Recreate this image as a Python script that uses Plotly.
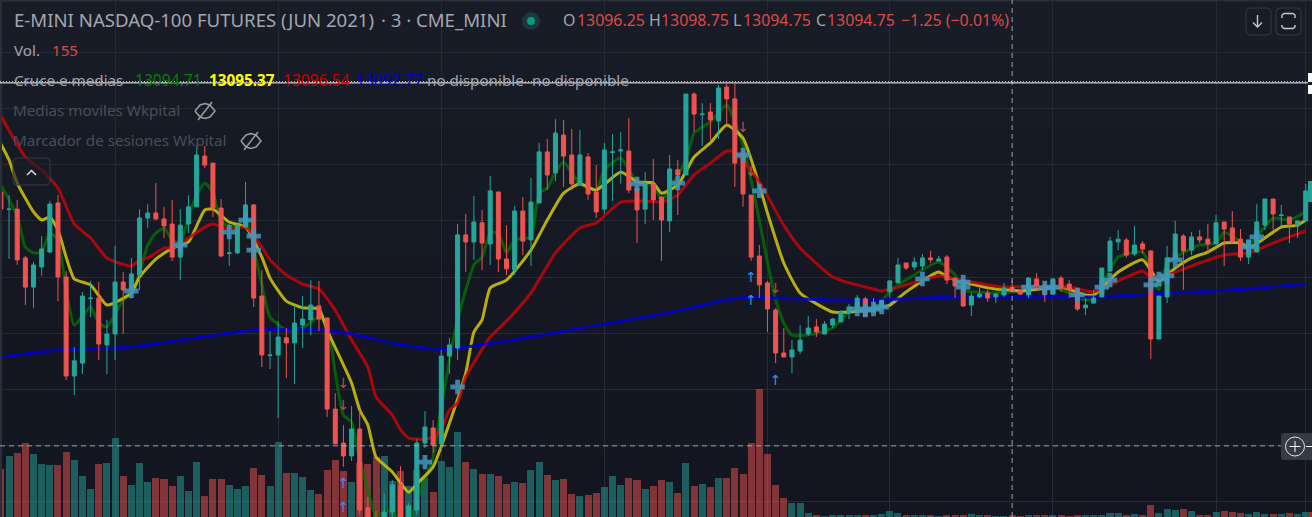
import plotly.graph_objects as go

bars = list(range(161))

opens = [13130.3,13124.1,13124.2,13106.8,13096.4,13103.6,13108.9,13126.4,13100.0,13064.7,13069.3,13092.3,13092.5,13075.8,13079.7,13098.2,13094.3,13100.7,13121.0,13122.8,
13120.7,13118.9,13107.1,13118.9,13125.0,13143.1,13140.6,13124.6,13108.4,13108.6,13117.8,13125.7,13093.2,13072.0,13072.2,13078.3,13076.5,13082.9,13084.7,13089.7,
13085.4,13052.9,13040.8,13036.2,13045.8,13017.7,13012.6,13009.8,13016.2,13025.9,13009.8,13016.9,13040.8,13046.2,13040.5,13071.8,13074.7,13115.0,13112.5,13119.3,
13111.8,13130.3,13106.4,13102.5,13123.5,13113.2,13126.4,13144.6,13137.1,13150.6,13143.5,13132.8,13142.8,13130.3,13124.2,13144.4,13144.9,13144.9,13131.7,13124.2,
13133.2,13128.5,13120.0,13138.2,13136.4,13165.2,13157.9,13158.8,13155.6,13167.7,13163.5,13144.2,13129.2,13107.5,13097.9,13088.2,13072.9,13071.5,13073.6,13079.7,
13082.2,13079.7,13082.9,13084.0,13087.2,13088.2,13092.2,13087.5,13089.0,13094.7,13097.9,13105.0,13103.6,13103.9,13106.8,13105.7,13107.1,13099.6,13097.2,13090.0,
13092.9,13094.3,13092.9,13093.6,13096.25,13095.0,13093.6,13099.3,13096.8,13093.9,13099.6,13097.5,13095.4,13089.0,13090.7,13092.9,13102.1,13112.5,13113.2,13108.2,
13111.8,13109.3,13077.9,13092.9,13106.4,13114.6,13109.6,13114.3,13113.5,13111.8,13119.6,13117.5,13113.5,13107.1,13108.9,13118.5,13127.8,13121.9,13121.4,13118.2,13120.0]

highs = [13131.0,13129.2,13127.5,13107.5,13105.3,13114.6,13127.1,13129.2,13102.1,13075.0,13094.7,13098.6,13098.2,13084.7,13111.1,13101.8,13106.8,13124.2,13126.0,13133.5,
13125.0,13127.5,13124.2,13129.2,13146.7,13146.7,13140.6,13127.8,13118.9,13118.9,13133.9,13126.0,13102.5,13080.7,13084.3,13081.8,13089.7,13093.2,13098.9,13098.6,
13085.4,13058.6,13047.2,13054.0,13052.6,13021.6,13016.6,13022.6,13027.6,13032.6,13019.4,13042.2,13052.2,13049.0,13074.0,13078.3,13118.9,13122.5,13128.9,13123.9,
13136.0,13130.3,13118.5,13125.3,13128.5,13135.3,13147.8,13149.2,13156.3,13156.0,13152.8,13152.4,13144.2,13139.9,13147.8,13151.0,13151.7,13156.7,13134.6,13137.4,
13142.1,13128.9,13143.5,13141.7,13165.2,13165.9,13162.0,13162.0,13168.5,13168.8,13168.8,13145.3,13129.2,13111.4,13098.6,13088.9,13081.8,13077.5,13082.9,13086.1,
13085.0,13084.3,13085.4,13088.2,13090.4,13093.6,13092.9,13092.5,13091.8,13098.9,13106.8,13105.0,13107.1,13108.2,13109.3,13107.5,13107.8,13099.6,13098.9,13094.3,
13096.1,13095.4,13094.3,13097.9,13098.75,13095.7,13100.0,13101.4,13098.2,13099.6,13100.4,13098.9,13096.1,13092.5,13095.4,13103.2,13114.3,13116.8,13113.9,13118.2,
13112.8,13109.3,13093.2,13111.1,13120.0,13115.3,13116.0,13116.8,13118.9,13122.1,13119.6,13123.5,13117.1,13113.2,13126.0,13127.8,13127.8,13125.7,13121.4,13120.0,13133.2]

lows = [13124.2,13106.4,13104.3,13090.0,13088.9,13100.4,13108.6,13091.4,13063.3,13057.9,13065.4,13085.7,13070.4,13065.4,13070.4,13079.7,13092.5,13095.4,13117.5,13120.3,
13113.9,13105.7,13098.9,13115.7,13125.0,13138.9,13121.4,13107.1,13103.9,13108.2,13117.8,13089.3,13067.9,13067.2,13049.7,13064.0,13061.9,13074.7,13079.3,13080.7,
13050.1,13040.5,13032.3,13034.4,13015.1,13009.8,13008.0,13008.0,13013.4,13008.0,13008.0,13015.1,13039.0,13037.2,13038.0,13065.4,13070.4,13101.8,13106.1,13102.5,
13104.3,13101.8,13100.7,13100.7,13107.8,13103.9,13126.4,13131.0,13134.2,13132.1,13131.0,13132.8,13127.5,13121.0,13122.5,13127.1,13133.2,13129.9,13112.1,13118.9,
13120.3,13105.7,13116.0,13122.1,13136.4,13151.7,13146.7,13148.8,13149.2,13154.9,13132.1,13125.0,13105.7,13092.5,13080.4,13069.3,13071.5,13065.8,13072.5,13079.0,
13078.6,13079.7,13081.8,13084.0,13085.0,13088.2,13086.1,13087.5,13089.0,13092.5,13097.9,13102.5,13102.5,13102.5,13105.0,13105.7,13097.5,13092.5,13089.3,13086.1,
13092.5,13091.1,13090.7,13092.9,13094.75,13093.6,13092.5,13095.0,13091.1,13093.9,13094.7,13092.5,13087.9,13086.4,13090.7,13092.9,13102.1,13109.6,13106.8,13107.5,
13108.2,13070.8,13077.9,13090.7,13106.4,13095.4,13107.8,13112.1,13108.2,13111.8,13103.9,13112.5,13105.7,13104.6,13108.9,13116.8,13116.8,13118.2,13112.1,13113.9,13120.0]

closes = [13124.2,13124.2,13106.1,13096.4,13104.3,13110.0,13126.0,13100.0,13064.7,13070.1,13093.2,13092.5,13076.1,13079.7,13098.2,13095.4,13101.1,13121.0,13122.8,13120.7,
13118.2,13107.1,13118.5,13125.0,13143.5,13139.9,13124.6,13107.5,13108.6,13118.5,13125.7,13092.5,13072.2,13072.2,13078.6,13076.5,13083.6,13085.0,13090.0,13085.0,
13052.9,13040.5,13036.2,13045.8,13016.9,13012.6,13009.8,13016.2,13025.9,13011.6,13018.4,13040.8,13046.5,13040.1,13071.8,13075.8,13115.0,13112.5,13119.6,13112.1,
13130.7,13106.4,13102.9,13123.5,13112.8,13126.7,13144.6,13136.4,13151.3,13143.1,13133.2,13143.5,13129.6,13123.2,13145.3,13144.6,13145.3,13131.0,13123.9,13133.2,
13127.5,13120.3,13138.5,13136.4,13165.2,13158.1,13158.1,13156.0,13167.4,13163.5,13140.6,13129.6,13107.1,13097.2,13088.6,13072.9,13071.5,13074.0,13077.5,13081.8,
13080.4,13083.2,13085.0,13087.5,13089.3,13092.5,13086.1,13089.3,13091.4,13098.6,13104.3,13103.2,13105.3,13106.8,13106.1,13106.4,13098.9,13096.8,13089.7,13093.2,
13093.9,13092.5,13093.9,13096.1,13094.75,13093.9,13099.6,13096.8,13093.9,13099.3,13096.1,13095.4,13088.6,13090.0,13092.5,13103.2,13112.8,13113.5,13107.8,13111.4,
13110.0,13077.9,13093.2,13106.8,13115.3,13109.3,13114.3,13113.2,13111.8,13119.3,13117.1,13112.5,13107.1,13113.2,13119.6,13127.8,13122.5,13122.1,13118.9,13120.0,13130.7]

# Newest bar, cut off by the right edge of the chart
last_bar = 160.6
last_open = 13126.7
last_close = 13134.2
last_volume = 280

volumes = [2000,2520,2640,3040,2600,2200,2160,2160,2680,2360,1720,1200,2200,2240,3240,1720,1360,2240,1480,1640,
1600,1320,1720,1120,2280,920,1600,1600,1360,1200,1320,2040,1760,1320,3080,1840,1840,1680,1160,1000,
1960,2360,1920,1480,2240,2200,2480,2520,1520,1920,1320,1960,1640,1080,2320,2080,3480,2280,2000,1800,
1800,1720,1400,1480,1440,1960,2280,1760,1560,1600,1000,920,960,1040,1280,1720,1360,1640,1560,1200,
1320,1560,1480,1040,2240,1320,1400,1280,1640,1640,2040,1800,3040,5200,2600,1360,840,640,640,240,
160,120,160,160,160,160,160,160,200,320,240,160,160,160,160,120,160,160,160,200,
160,160,120,120,155,120,160,160,160,160,160,120,160,160,160,160,240,240,160,200,
160,560,240,400,360,400,320,160,160,280,320,280,240,200,280,200,200,200,240,200,280]

blue_idx = [0,4,7,14,17,24,31,39,43,49,54,58,65,74,81,89,92,95,102,107,117,135,141,153,160]
blue_val = [13071.5,13072.9,13074.0,13074.7,13075.4,13078.3,13081.1,13081.1,13079.7,13075.8,13074.2,13075.4,13078.6,13083.2,13086.8,13091.8,13092.9,13092.5,13091.8,13091.8,13092.9,13092.9,13093.9,13095.7,13097.5]

red_idx = [0,3,5,7,9,11,13,16,17,18,20,21,23,25,26,28,30,32,33,35,37,39,41,43,45,46,48,49,50,52,53,54,55,56,57,60,62,65,68,71,73,76,79,81,83,85,87,89,90,93,96,98,102,104,107,108,110,115,116,119,123,124,131,134,136,140,141,143,147,150,153,156,158,160]
red_val = [13157.4,13142.8,13138.2,13131.7,13118.9,13113.9,13106.8,13103.9,13106.1,13106.8,13110.3,13110.3,13113.9,13117.8,13118.9,13117.1,13117.8,13110.7,13106.1,13100.7,13097.5,13095.7,13088.2,13077.5,13067.9,13057.2,13050.8,13045.5,13042.6,13042.2,13042.9,13045.5,13052.6,13055.1,13064.3,13078.6,13084.3,13094.3,13108.6,13117.5,13119.3,13126.7,13127.1,13126.7,13129.2,13136.4,13140.6,13144.9,13144.6,13133.9,13118.5,13110.3,13100.0,13097.9,13095.7,13095.0,13096.4,13100.4,13100.0,13098.2,13096.4,13096.54,13096.4,13094.7,13097.2,13102.1,13100.0,13100.7,13105.0,13107.8,13108.6,13112.1,13114.3,13116.4]

yellow_idx = [0,1,2,4,5,6,7,8,9,11,13,16,17,19,21,23,25,26,28,30,32,33,35,37,39,40,43,44,45,46,48,50,51,53,55,57,58,59,60,62,65,67,69,71,73,76,78,80,81,83,85,87,89,91,93,94,96,98,102,104,107,109,111,115,116,119,122,124,125,130,133,134,137,140,142,144,146,148,150,152,153,156,157,159,160]
yellow_val = [13147.4,13141.7,13133.5,13123.2,13120.3,13121.4,13116.8,13107.1,13099.3,13097.2,13090.0,13094.3,13100.0,13106.4,13110.3,13112.5,13123.9,13124.2,13119.6,13117.8,13107.1,13099.6,13091.4,13089.0,13088.6,13081.1,13062.2,13052.6,13047.2,13035.8,13030.5,13023.3,13026.2,13032.3,13047.9,13065.8,13080.4,13084.7,13096.1,13098.9,13109.6,13120.3,13129.9,13133.2,13131.0,13137.4,13133.9,13133.5,13129.9,13132.8,13142.8,13147.8,13154.2,13149.5,13132.8,13122.8,13105.0,13094.3,13087.5,13087.5,13088.6,13090.0,13094.7,13101.8,13100.0,13097.5,13095.7,13095.37,13095.0,13096.4,13093.6,13093.6,13101.8,13106.1,13098.6,13103.2,13106.8,13108.9,13112.1,13112.1,13110.3,13116.0,13117.8,13118.5,13120.3]

green_idx = [0,1,2,3,4,5,6,7,8,9,11,12,13,15,16,17,18,19,20,21,22,23,24,25,26,27,28,29,30,31,32,33,35,37,39,40,41,42,43,44,45,46,47,48,49,50,51,52,53,54,55,56,58,59,60,61,62,63,65,66,67,68,69,70,71,73,74,76,78,80,81,82,84,85,87,89,91,93,94,95,96,97,99,102,104,107,109,111,115,117,118,122,124,125,129,133,134,136,137,140,142,143,147,149,150,153,156,158,160]
green_val = [13132.8,13127.5,13122.1,13110.7,13108.6,13108.9,13115.7,13113.2,13095.4,13082.9,13089.3,13083.6,13082.2,13091.8,13094.3,13101.4,13111.4,13115.7,13117.5,13113.2,13112.1,13121.4,13129.2,13133.5,13130.3,13119.6,13118.2,13118.2,13121.4,13110.3,13097.2,13085.7,13081.1,13081.8,13085.7,13083.6,13065.8,13050.8,13048.3,13034.8,13024.1,13014.4,13016.2,13016.9,13011.6,13011.6,13020.5,13027.6,13035.8,13053.7,13070.4,13084.7,13104.3,13107.1,13115.7,13115.7,13108.6,13113.2,13114.3,13129.9,13131.7,13137.4,13141.0,13137.1,13133.2,13131.0,13138.2,13142.4,13133.9,13132.8,13127.5,13131.0,13141.7,13151.3,13155.3,13161.3,13147.0,13120.3,13105.3,13091.8,13083.6,13079.3,13079.3,13081.8,13087.5,13088.2,13094.7,13098.9,13105.3,13100.7,13095.4,13094.3,13094.71,13094.7,13096.4,13091.8,13092.2,13102.5,13107.1,13108.9,13095.4,13105.0,13111.4,13112.1,13116.0,13111.4,13121.0,13120.3,13123.2]

cross_idx = [16,22,28,30,31,31,52,56,78,83,91,93,105,106,107,108,113,118,118,126,128,129,132,135,136,141,142,143,144,153,154]
cross_val = [13095.0,13111.4,13116.0,13120.3,13114.6,13109.6,13034.0,13060.8,13133.2,13133.5,13143.5,13130.7,13088.6,13088.2,13088.6,13089.3,13099.3,13098.2,13096.4,13096.4,13096.1,13096.4,13093.6,13096.4,13098.9,13097.2,13099.3,13100.4,13106.1,13110.7,13114.3]

up_idx = [42,42,92,92,95]
up_val = [13025.9,13017.3,13099.3,13091.1,13062.9]
down_idx = [42,42,91,92,95]
down_val = [13061.8,13053.7,13153.1,13137.1,13095.4]

grid_idx = [14,34,54,74,94,109,129,149,160]
cursor_bar = 124
cursor_price = 13039.8
last_price = 13169.2

W, H = 1312, 517
X_RANGE = [-0.11, 160.77]
Y_RANGE = [13014.44, 13198.75]
VOL_RANGE = [80, 20760]

TEAL = "#26a69a"
CORAL = "#ef5350"
vol_colors = ["rgba(38,166,154,.5)" if c >= o else "rgba(239,83,80,.5)" for o, c in zip(opens, closes)]

def px(x):
    return x / W
def py(y):
    return 1 - y / H

fig = go.Figure()
fig.add_trace(go.Bar(x=bars, y=volumes, width=0.86, marker=dict(color=vol_colors, line_width=0), yaxis="y", showlegend=False))
fig.add_trace(go.Bar(x=[last_bar + 0.15], y=[last_volume], width=0.6, marker=dict(color="rgb(190,30,30)", line_width=0), yaxis="y", showlegend=False))

for idx, val, col in [(green_idx, green_val, "rgba(0,120,0,.72)"),
                      (yellow_idx, yellow_val, "rgba(205,195,12,.88)"),
                      (red_idx, red_val, "rgba(195,5,10,.85)"),
                      (blue_idx, blue_val, "rgba(0,0,205,.88)")]:
    fig.add_trace(go.Scatter(x=idx, y=val, mode="lines", line=dict(color=col, width=3, shape="spline", smoothing=0.5), yaxis="y2", showlegend=False))

fig.add_trace(go.Candlestick(x=bars, open=opens, high=highs, low=lows, close=closes, yaxis="y3", showlegend=False,
    whiskerwidth=0,
    increasing=dict(line=dict(color=TEAL, width=1), fillcolor=TEAL),
    decreasing=dict(line=dict(color=CORAL, width=1), fillcolor=CORAL)))
fig.add_trace(go.Bar(x=[last_bar], base=[last_open], y=[last_close - last_open], width=0.62, marker=dict(color=TEAL, line_width=0), yaxis="y3", showlegend=False))

fig.add_trace(go.Scatter(x=cross_idx, y=cross_val, mode="markers", yaxis="y4", showlegend=False,
    marker=dict(symbol="cross", size=12, color="rgba(66,150,190,.85)", line_width=0)))
fig.add_trace(go.Scatter(x=up_idx, y=up_val, mode="text", text=["↑"] * len(up_idx), yaxis="y4", showlegend=False,
    textfont=dict(color="#3a8fe0", size=14, family="DejaVu Sans")))
fig.add_trace(go.Scatter(x=down_idx, y=down_val, mode="text", text=["↓"] * len(down_idx), yaxis="y4", showlegend=False,
    textfont=dict(color="rgba(239,83,80,.8)", size=14, family="DejaVu Sans")))

shapes = []
# faint vertical fade of the pane background
bands = ["#181c27", "#171b26", "#161a25", "#151924", "#151823", "#141722", "#131721", "#131620"]
for n, c in enumerate(bands):
    shapes.append(dict(type="rect", xref="paper", yref="paper", x0=0, x1=1, y0=1 - (n + 1) / 8, y1=1 - n / 8,
                       fillcolor=c, line_width=0, layer="below"))
# pane border
shapes.append(dict(type="rect", xref="paper", yref="paper", x0=0, x1=px(2), y0=0, y1=1, fillcolor="#2a2e39", line_width=0))
shapes.append(dict(type="rect", xref="paper", yref="paper", x0=0, x1=1, y0=py(1.5), y1=1, fillcolor="#2a2e39", line_width=0))
# crosshair
cross_line = dict(color="rgba(170,174,184,.9)", width=1, dash="5px,4px")
shapes.append(dict(type="line", xref="x", yref="paper", x0=cursor_bar, x1=cursor_bar, y0=0, y1=1, line=cross_line))
shapes.append(dict(type="line", xref="paper", yref="y2", x0=0, x1=1, y0=cursor_price, y1=cursor_price, line=cross_line))
# last price lines
shapes.append(dict(type="line", xref="paper", yref="y2", x0=0, x1=px(1308), y0=last_price, y1=last_price, line=dict(color="#ffffff", width=1)))
shapes.append(dict(type="line", xref="paper", yref="y2", x0=0, x1=px(1308), y0=last_price + 0.42, y1=last_price + 0.42, line=dict(color="#d8dae0", width=1, dash="1px,2px")))
# label stubs at the right edge
for y0, y1 in [(73, 82), (85, 94)]:
    shapes.append(dict(type="rect", xref="paper", yref="paper", x0=px(1308), x1=1, y0=py(y1), y1=py(y0), fillcolor="#ffffff", line_width=0))

def rrect(x0, y0, x1, y1, r):
    return (f"M{px(x0+r)},{py(y0)} L{px(x1-r)},{py(y0)} Q{px(x1)},{py(y0)} {px(x1)},{py(y0+r)} "
            f"L{px(x1)},{py(y1-r)} Q{px(x1)},{py(y1)} {px(x1-r)},{py(y1)} L{px(x0+r)},{py(y1)} "
            f"Q{px(x0)},{py(y1)} {px(x0)},{py(y1-r)} L{px(x0)},{py(y0+r)} Q{px(x0)},{py(y0)} {px(x0+r)},{py(y0)} Z")

def add_path(d, col, width=1, fill="rgba(0,0,0,0)"):
    shapes.append(dict(type="path", xref="paper", yref="paper", path=d, line=dict(color=col, width=width), fillcolor=fill))

def poly(points):
    return "M" + " L".join(f"{px(a)},{py(b)}" for a, b in points)

# top right buttons
add_path(rrect(1246, 8, 1271, 35, 4), "#353945", fill="#181c27")
add_path(rrect(1276, 8, 1301, 35, 4), "#353945", fill="#181c27")
add_path(poly([(1257.5, 15), (1257.5, 27)]), "#c5c8d0", 1.4)
add_path(poly([(1253, 22.5), (1257.5, 27), (1262, 22.5)]), "#c5c8d0", 1.4)
add_path(poly([(1282, 18), (1282, 15), (1284, 13.5), (1293, 13.5), (1295, 15), (1295, 18)]), "#c5c8d0", 1.4)
add_path(poly([(1282, 25), (1282, 27), (1284, 28.5), (1293, 28.5), (1295, 27), (1295, 25)]), "#c5c8d0", 1.4)
# collapse button
add_path(rrect(13, 158, 50, 185, 4), "#353945", fill="rgba(24,28,39,.6)")
add_path(poly([(27, 175), (31.5, 170.5), (36, 175)]), "#d8dae0", 1.5)
# plus button
shapes.append(dict(type="path", xref="paper", yref="paper", path=rrect(1281, 433, 1314, 460, 3), fillcolor="#363a45", line_width=0))
shapes.append(dict(type="circle", xref="paper", yref="paper", x0=px(1285.5), x1=px(1304.5), y0=py(456), y1=py(437), line=dict(color="#e4e6ea", width=1)))
add_path(poly([(1295, 441), (1295, 452)]), "#ffffff", 1)
add_path(poly([(1289.5, 446.5), (1300.5, 446.5)]), "#ffffff", 1)
add_path(poly([(1306, 446.5), (1312, 446.5)]), "#ffffff", 1)
# eye-off icons
for cx, cy in [(205, 111), (251, 141)]:
    add_path(poly([(cx - 10, cy), (cx - 5, cy - 6), (cx, cy - 7.5), (cx + 5, cy - 6), (cx + 10, cy), (cx + 5, cy + 6), (cx, cy + 7.5), (cx - 5, cy + 6), (cx - 10, cy)]), "#9a9da6", 1.5)
    add_path(poly([(cx - 7, cy + 9), (cx + 7, cy - 9)]), "#9a9da6", 1.5)
shapes.append(dict(type="circle", xref="paper", yref="paper", x0=px(522), x1=px(540), y0=py(30), y1=py(12), fillcolor="rgba(34,171,148,.2)", line_width=0))
shapes.append(dict(type="circle", xref="paper", yref="paper", x0=px(527), x1=px(535), y0=py(25), y1=py(17), fillcolor="#089981", line_width=0))

FONT = "Noto Sans"
GREY = "#a3a6af"
VAL = "#dc4a48"
DIM = "#4a4d57"

def label(x, y, text, size=15.2, color=GREY):
    return dict(xref="paper", yref="paper", x=px(x), y=py(y), text=text, showarrow=False, xanchor="left", yanchor="middle",
                align="left", font=dict(family=FONT, size=size, color=color), borderpad=0, borderwidth=0)

annotations = [
    label(14, 20, "E-MINI NASDAQ-100 FUTURES (JUN 2021)", 18.6),
    label(381, 20, "· 3 ·", 18.6),
    label(416, 20, "CME_MINI", 18.6),
    label(563, 20, "O", 15.9),
    label(577, 20, "13096.25", 15.9, VAL),
    label(649, 20, "H", 15.9),
    label(661, 20, "13098.75", 15.9, VAL),
    label(733, 20, "L", 15.9),
    label(743, 20, "13094.75", 15.9, VAL),
    label(816, 20, "C", 15.9),
    label(827, 20, "13094.75", 15.9, VAL),
    label(901, 20, "−1.25 (−0.01%)", 15.9, VAL),
    label(14, 50, "Vol."),
    label(52, 50, "155", 15.2, VAL),
    label(14, 80, "Cruce e medias"),
    label(135, 80, "13094.71", 15.6, "#0a7a0a"),
    label(209, 80, "<b>13095.37</b>", 15.3, "#ffff00"),
    label(283, 80, "13096.54", 15.6, "#cc0000"),
    label(356, 80, "13092.77", 15.6, "#0000cc"),
    label(427, 80, "no disponible"),
    label(532, 80, "no disponible"),
    label(13, 110, "Medias moviles Wkpital", 15.2, DIM),
    label(13, 140, "Marcador de sesiones Wkpital", 15.2, DIM),
]

axis_common = dict(showticklabels=False, ticks="", zeroline=False, showline=False)
fig.update_layout(
    width=W, height=H, margin=dict(l=0, r=0, t=0, b=0),
    paper_bgcolor="#161a25", plot_bgcolor="rgba(0,0,0,0)",
    barmode="overlay", bargap=0, showlegend=False,
    shapes=shapes, annotations=annotations,
    xaxis=dict(range=X_RANGE, tickmode="array", tickvals=grid_idx, showgrid=True, gridcolor="#262a35", gridwidth=1, rangeslider=dict(visible=False), **axis_common),
    yaxis=dict(range=VOL_RANGE, showgrid=False, **axis_common),
    yaxis2=dict(range=Y_RANGE, overlaying="y", showgrid=True, dtick=20, tick0=13100, gridcolor="#262a35", gridwidth=1, **axis_common),
    yaxis3=dict(range=Y_RANGE, overlaying="y", showgrid=False, **axis_common),
    yaxis4=dict(range=Y_RANGE, overlaying="y", showgrid=False, **axis_common),
)

fig.write_html("out.html", config=dict(displayModeBar=False), post_script="document.body.style.margin='0';document.body.style.overflow='hidden';")
